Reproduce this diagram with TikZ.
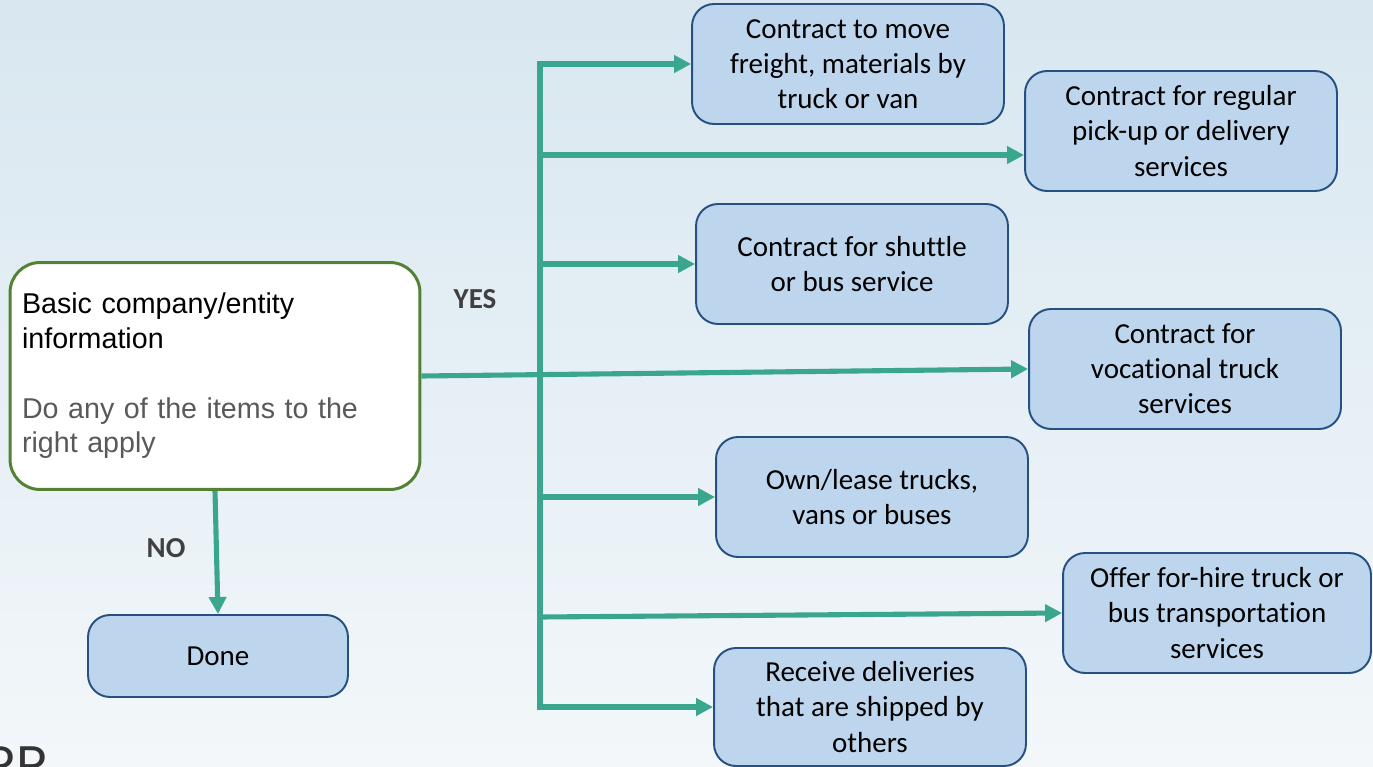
\documentclass[tikz,border=0pt]{standalone}
\usepackage{fontspec}
\setmainfont{Carlito}[Ligatures=NoCommon]
\newfontfamily\infofont{Liberation Sans}
\newfontfamily\logofont{Poppins}
\usetikzlibrary{arrows.meta}
\definecolor{flowteal}{RGB}{58,166,142}
\definecolor{boxfill}{RGB}{190,214,237}
\definecolor{boxline}{RGB}{38,80,128}
\definecolor{infogreen}{RGB}{84,130,53}
\definecolor{labelgray}{RGB}{64,64,64}
\definecolor{notegray}{RGB}{89,89,89}
\definecolor{bgtop}{RGB}{216,231,240}
\definecolor{bgbottom}{RGB}{243,247,250}

\begin{document}
\begin{tikzpicture}[x=0.02cm,y=-0.02cm,
    choice/.style={draw=boxline,line width=1.1pt,fill=boxfill,rounded corners=0.44cm,
      minimum width=6.24cm,minimum height=2.4cm,align=center,inner sep=2pt,
      font=\fontsize{16.5}{20}\selectfont},
    flow/.style={draw=flowteal,line width=2.9pt,-{Triangle[length=0.34cm,width=0.34cm]}},
    answer/.style={text=labelgray,font=\fontsize{16.5}{20}\selectfont\bfseries}]

  % background
  \shade[top color=bgtop,bottom color=bgbottom] (0,0) rectangle (1373,767);
  \useasboundingbox (0,0) rectangle (1373,767);

  % start box and the end box
  \node[draw=infogreen,line width=1.7pt,fill=white,rounded corners=0.6cm,minimum height=4.54cm,
    text width=7.72cm,inner xsep=0.24cm,align=left,font=\infofont\fontsize{16.3}{19.8}\selectfont]
    (info) at (215,376) {Basic company/entity\\information\\[19.8pt]\textcolor{notegray}{Do any of the items to the}\\\textcolor{notegray}{right apply}};
  \node[choice,minimum width=5.2cm,minimum height=1.64cm] (done) at (218,656) {Done};

  % the items to the right
  \node[choice] (freight) at (848,64) {Contract to move\\freight, materials by\\truck or van};
  \node[choice] (regular) at (1181,131) {Contract for regular\\pick-up or delivery\\services};
  \node[choice] (shuttle) at (852,264) {Contract for shuttle\\or bus service};
  \node[choice] (vocational) at (1185,369) {Contract for\\vocational truck\\services};
  \node[choice] (own) at (872,497) {Own/lease trucks,\\vans or buses};
  \node[choice,minimum width=6.16cm] (offer) at (1217,613) {Offer for-hire truck or\\bus transportation\\services};
  \node[choice,minimum height=2.36cm] (receive) at (870,707) {Receive deliveries\\that are shipped by\\others};

  % trunk and branches
  \coordinate (trunktop) at (540,64);
  \coordinate (trunkbot) at (540,707);
  \coordinate (bregular) at (540,155);
  \coordinate (bshuttle) at (540,264);
  \coordinate (bown) at (540,497);
  \coordinate (boffer) at (540,617);

  \draw[flow] (trunkbot) |- (freight.west);
  \draw[flow] (trunktop) |- (receive.west);
  \draw[flow] (bregular) -- (bregular -| regular.west);
  \draw[flow] (bshuttle) -- (shuttle.west);
  \draw[flow] (info.east) -- (vocational.west);
  \draw[flow] (bown) -- (own.west);
  \draw[flow] (boffer) -- (offer.west);
  \draw[flow] (info.south) -- (done.north);

  \node[answer] (yes) at (475,299) {YES};
  \node[answer] (no) at (166,548) {NO};

  % logo cut off at the bottom edge
  \begin{scope}
    \clip (0,0) rectangle (1373,767);
    \node[anchor=base west,inner sep=0pt,text=black!80,font=\logofont\fontsize{30}{30}\selectfont] (logo) at (-16,783) {RR};
  \end{scope}
\end{tikzpicture}
\end{document}
